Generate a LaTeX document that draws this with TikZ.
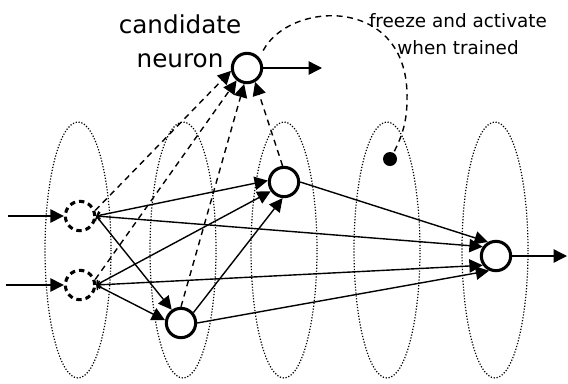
\documentclass[tikz,border=0pt]{standalone}
\usepackage{fontspec}
\setmainfont{DejaVu Sans}
\usetikzlibrary{arrows.meta,positioning,calc}

\begin{document}
\begin{tikzpicture}[x=0.75pt, y=-0.75pt,
    neuron/.style={circle, draw, line width=2.3pt, minimum size=22pt, inner sep=0pt},
    inneuron/.style={neuron, dash pattern=on 4pt off 3pt},
    conn/.style={line width=1.05pt, -{Triangle[length=10pt,width=10pt]}},
    fromin/.style={conn, {Straight Barb[length=2pt,width=6pt]}-{Triangle[length=10pt,width=10pt]}},
    candline/.style={conn, dash pattern=on 4.5pt off 3.5pt},
    layer/.style={line width=0.9pt, dash pattern=on 0.9pt off 1.3pt}]
    \useasboundingbox (0,0) rectangle (568,383);

    % layers
    \foreach \x in {78,183,284,387,495}
        \draw[layer] (\x,250) ellipse [x radius=33, y radius=128];

    % neurons
    \node[inneuron] (in1) at (80,216) {};
    \node[inneuron] (in2) at (80,285) {};
    \node[neuron] (h1) at (284,182) {};
    \node[neuron] (h2) at (181,323) {};
    \node[neuron] (out) at (496,256) {};
    \node[neuron] (cand) at (247,68) {};
    \node[circle, fill, inner sep=0pt, minimum size=10.5pt] (dot) at (390,159) {};

    \coordinate (x1) at (8,216);
    \coordinate (x2) at (6,285);
    \coordinate (y) at (567,256);
    \coordinate (c) at (322,68);

    % labels
    \node[font=\fontsize{18.5}{25.5}\selectfont, align=center] (candlbl) at (180,41) {candidate\\neuron};
    \node[font=\fontsize{13.8}{20}\selectfont, align=center] (freezelbl) at (458,34) {freeze and activate\\when trained};

    % inputs and output
    \draw[conn] (x1) -- (in1);
    \draw[conn] (x2) -- (in2);
    \draw[conn] (out) -- (y);
    \draw[conn] (cand) -- (c);

    % weights
    \draw[fromin] (in1.east) -- (h1.175);
    \draw[fromin] (in1.east) -- (out.145);
    \draw[fromin] (in1.east) -- (h2.125);
    \draw[fromin] (in2.east) -- (h1.215);
    \draw[fromin] (in2.east) -- (out.215);
    \draw[fromin] (in2.east) -- (h2.170);
    \draw[conn] (h2.40) -- (h1.265);
    \draw[conn] (h2.east) -- (out.245);
    \draw[conn] (h1.east) -- (out.120);

    % candidate inputs
    \draw[candline] (in1.20) -- (cand.190);
    \draw[candline] (in2.20) -- (cand.230);
    \draw[candline] (h2.north) -- (cand.260);
    \draw[candline] (h1.95) -- (cand.300);

    \draw[line width=1.05pt, dash pattern=on 4.5pt off 3.5pt, shorten <=6pt]
        (cand.40) .. controls (290,0) and (410,-5) .. (407,100)
        .. controls (407,125) and (400,140) .. (dot.60);
\end{tikzpicture}
\end{document}
